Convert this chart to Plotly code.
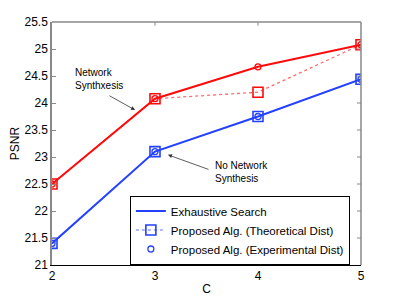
import plotly.graph_objects as go

C = [2, 3, 4, 5]
red_exhaustive = [22.5, 24.08, 24.67, 25.08]
red_theoretical = [22.5, 24.08, 24.2, 25.08]
red_experimental = [22.5, 24.08, 24.67, 25.08]
blue_exhaustive = [21.4, 23.1, 23.75, 24.44]
blue_theoretical = [21.4, 23.1, 23.75, 24.44]
blue_experimental = [21.4, 23.1, 23.75, 24.44]
y_ticks = [21, 21.5, 22, 22.5, 23, 23.5, 24, 24.5, 25, 25.5]
legend_names = ["Exhaustive Search", "Proposed Alg. (Theoretical Dist)", "Proposed Alg. (Experimental Dist)"]

RED = "rgb(255,10,10)"
LRED = "rgba(255,70,70,0.8)"
BLUE = "rgb(35,65,255)"
FONT = "Liberation Sans, Arial, sans-serif"

fig = go.Figure()
# red (network synthesis)
fig.add_trace(go.Scatter(x=C, y=red_theoretical, mode="lines+markers", showlegend=False,
                         line=dict(color=LRED, width=1.3, dash="dot"),
                         marker=dict(symbol="square-open", size=10, color=RED, line=dict(width=1.6))))
fig.add_trace(go.Scatter(x=C, y=red_exhaustive, mode="lines", showlegend=False,
                         line=dict(color=RED, width=2)))
fig.add_trace(go.Scatter(x=C, y=red_experimental, mode="markers", showlegend=False,
                         marker=dict(symbol="circle-open", size=6, color=RED, line=dict(width=1.3))))
# blue (no network synthesis)
fig.add_trace(go.Scatter(x=C, y=blue_exhaustive, mode="lines", showlegend=False,
                         line=dict(color=BLUE, width=2)))
fig.add_trace(go.Scatter(x=C, y=blue_theoretical, mode="markers", showlegend=False,
                         marker=dict(symbol="square-open", size=10, color=BLUE, line=dict(width=1.6))))
fig.add_trace(go.Scatter(x=C, y=blue_experimental, mode="markers", showlegend=False,
                         marker=dict(symbol="circle-open", size=6, color=BLUE, line=dict(width=1.3))))
# legend entries
fig.add_trace(go.Scatter(x=[None], y=[None], mode="lines", name=legend_names[0],
                         line=dict(color=BLUE, width=2)))
fig.add_trace(go.Scatter(x=[None], y=[None], mode="lines+markers", name=legend_names[1],
                         line=dict(color="rgba(35,65,255,0.5)", width=1.3, dash="dot"),
                         marker=dict(symbol="square-open", size=10, color=BLUE, line=dict(width=1.6))))
fig.add_trace(go.Scatter(x=[None], y=[None], mode="markers", name=legend_names[2],
                         marker=dict(symbol="circle-open", size=6, color=BLUE, line=dict(width=1.3))))

fig.update_layout(
    width=391, height=291,
    margin=dict(l=44, r=38, t=14, b=34),
    paper_bgcolor="white", plot_bgcolor="white",
    font=dict(family=FONT, size=12, color="black"),
    xaxis=dict(range=[2, 5], tickvals=C, ticks="inside", ticklen=4, tickcolor="#888",
               showgrid=False, zeroline=False, showline=True, linecolor="black", linewidth=1,
               automargin=False,
               title=dict(text="C", font=dict(size=12), standoff=2)),
    yaxis=dict(range=[21, 25.5], tickvals=y_ticks, ticktext=[f"{v:g}" for v in y_ticks],
               ticks="inside", ticklen=4, tickcolor="#888", automargin=False,
               showgrid=False, zeroline=False, showline=True, linecolor="#888", linewidth=1.5,
               title=dict(text="PSNR", font=dict(size=12), standoff=6)),
    legend=dict(x=0.252, y=0.286, xanchor="left", yanchor="top", bgcolor="white",
                bordercolor="black", borderwidth=1, font=dict(size=11.5), tracegroupgap=0,
                itemwidth=30),
    showlegend=True,
)
# grey top/right box lines
fig.add_shape(type="line", xref="paper", yref="paper", x0=0, x1=1, y0=1, y1=1,
              line=dict(color="#888", width=1.5))
fig.add_shape(type="line", xref="paper", yref="paper", x0=1, x1=1, y0=0, y1=1,
              line=dict(color="#888", width=1.5))
for v in [3, 4]:
    fig.add_shape(type="line", xref="x", yref="paper", x0=v, x1=v, y0=1, y1=0.985,
                  line=dict(color="#888", width=1))
for v in y_ticks[1:-1]:
    fig.add_shape(type="line", xref="paper", yref="y", x0=1, x1=0.987, y0=v, y1=v,
                  line=dict(color="#888", width=1))

fig.add_annotation(x=2.2, y=24.44, xref="x", yref="y", text="Network<br>Synthxesis",
                   showarrow=False, xanchor="left", yanchor="middle", align="left",
                   font=dict(size=10, family=FONT))
fig.add_annotation(x=2.806, y=23.87, ax=2.544, ay=24.15, xref="x", yref="y", axref="x", ayref="y",
                   text="", showarrow=True, arrowhead=2, arrowsize=1, arrowwidth=0.8, arrowcolor="#333")
fig.add_annotation(x=3.563, y=22.72, xref="x", yref="y", text="No Network<br>Synthesis",
                   showarrow=False, xanchor="left", yanchor="middle", align="left",
                   font=dict(size=10, family=FONT))
fig.add_annotation(x=3.126, y=23.04, ax=3.534, ay=22.76, xref="x", yref="y", axref="x", ayref="y",
                   text="", showarrow=True, arrowhead=2, arrowsize=1, arrowwidth=0.8, arrowcolor="#333")

fig.write_html("out.html")
